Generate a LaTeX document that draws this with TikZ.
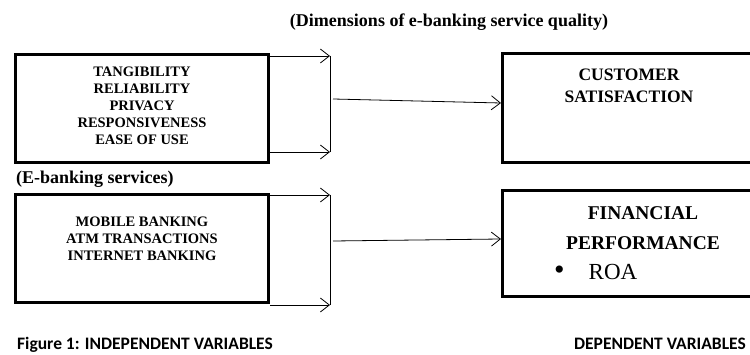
\documentclass[tikz,border=0pt]{standalone}
\usepackage{fontspec}
\setmainfont{Liberation Serif}
\newfontfamily\calfont{Carlito}
\usetikzlibrary{arrows.meta}

\begin{document}
\begin{tikzpicture}[x=1pt,y=-1pt,>={Straight Barb[length=9pt,width=14pt]},
  varbox/.style={draw,line width=3pt,inner sep=0pt},
  items/.style={font=\bfseries\fontsize{14.5}{17}\selectfont,align=center,inner sep=0pt},
  heads/.style={font=\bfseries\fontsize{18}{22}\selectfont,inner sep=0pt},
  foot/.style={font=\calfont\bfseries\fontsize{17.5}{22}\selectfont,inner sep=0pt},
  link/.style={line width=0.8pt}]
% Conceptual framework: e-banking -> satisfaction and performance
\clip (0,0) rectangle (750,355);
\node[varbox,minimum width=253pt,minimum height=108pt] (dims) at (142,108.5) {};
\node[varbox,minimum width=253pt,minimum height=108pt] (serv) at (142,248.5) {};
\node[varbox,minimum width=280pt,minimum height=109pt] (csat) at (642.5,108) {};
\node[varbox,minimum width=280pt,minimum height=106pt] (fin) at (642.5,243.5) {};
\node[items] (dimstxt) at (142,106) {TANGIBILITY\\RELIABILITY\\PRIVACY\\RESPONSIVENESS\\EASE OF USE};
\node[items] (servtxt) at (142,239) {MOBILE BANKING\\ATM TRANSACTIONS\\INTERNET BANKING};
\node[items,font=\bfseries\fontsize{17.5}{22}\selectfont] (csattxt) at (629,86) {CUSTOMER\\SATISFACTION};
\node[items,font=\bfseries\fontsize{19.5}{30}\selectfont] (fintxt) at (643,228) {FINANCIAL\\PERFORMANCE};
\node[items,anchor=base west,font=\fontsize{23}{26}\selectfont] (roatxt) at (554,280) {{\fontsize{30}{30}\selectfont\textbullet}\hspace{24pt}ROA};
\node[heads] (dimlbl) at (449,22) {(Dimensions of e-banking service quality)};
\node[heads,anchor=west] (servlbl) at (16,179) {(E-banking services)};
\node[foot,anchor=base west] (indlbl) at (17,350) {Figure 1: INDEPENDENT VARIABLES};
\node[foot,anchor=base east] (deplbl) at (746,350) {DEPENDENT VARIABLES};
\coordinate (jt1) at (330,56);
\coordinate (jb1) at (330,152);
\coordinate (jm1) at (333,99);
\coordinate (jt2) at (330,195);
\coordinate (jb2) at (330,305);
\coordinate (jm2) at (333,241);
\draw[link,->] (dims.east |- jt1) -- (jt1);
\draw[link,->] (dims.east |- jb1) -- (jb1);
\draw[link] (jt1) -- (jb1);
\draw[link,->] (jm1) -- ([yshift=5pt]csat.west);
\draw[link,->] (serv.east |- jt2) -- (jt2);
\draw[link,->] (serv.east |- jb2) -- (jb2);
\draw[link] (jt2) -- (jb2);
\draw[link,->] (jm2) -- ([yshift=4.5pt]fin.west);
\end{tikzpicture}
\end{document}
